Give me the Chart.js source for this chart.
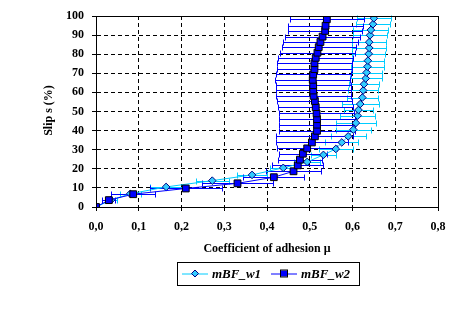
<!DOCTYPE html>
<html><head><meta charset="utf-8">
<script src="https://cdn.jsdelivr.net/npm/chart.js@4.4.0/dist/chart.umd.min.js"></script>
<style>html,body{margin:0;padding:0;background:#fff;}#wrap{width:456px;height:325px;}</style>
</head><body><div id="wrap"><canvas id="c" width="456" height="325"></canvas></div>
<script>
const seriesNames = ['mBF_w1', 'mBF_w2'];
const xTickValues = [0, 0.1, 0.2, 0.3, 0.4, 0.5, 0.6, 0.7, 0.8];
const yTickValues = [0, 10, 20, 30, 40, 50, 60, 70, 80, 90, 100];
const xTitle = 'Coefficient of adhesion \u03bc';
const yTitle = 'Slip s (%)';

const w1Slip = [0, 3.6, 6.9, 10.5, 13.8, 16.8, 20.5, 23.6, 27.3, 30.4, 33.8, 37.0, 40.5, 44.0, 47.8, 50.8, 53.9, 57.3, 61.0, 64.3, 67.3, 70.4, 73.5, 76.6, 80.2, 83.3, 86.3, 89.9, 92.7, 95.7, 98.8];
const w1Mu   = [0, 0.035, 0.080, 0.164, 0.272, 0.365, 0.438, 0.494, 0.532, 0.561, 0.575, 0.590, 0.602, 0.608, 0.612, 0.614, 0.618, 0.623, 0.625, 0.627, 0.631, 0.633, 0.635, 0.636, 0.638, 0.639, 0.639, 0.641, 0.643, 0.648, 0.650];
const w1Err  = [0, 0.015, 0.025, 0.037, 0.039, 0.035, 0.030, 0.031, 0.030, 0.039, 0.039, 0.041, 0.041, 0.046, 0.041, 0.035, 0.043, 0.036, 0.035, 0.036, 0.037, 0.037, 0.038, 0.038, 0.039, 0.039, 0.040, 0.040, 0.041, 0.040, 0.040];

const w2Slip = [0, 3.6, 6.7, 9.7, 12.4, 15.6, 18.7, 21.8, 24.8, 27.9, 30.7, 33.8, 37.0, 39.9, 43.1, 46.0, 49.0, 52.3, 55.5, 58.2, 61.0, 63.8, 66.6, 69.4, 72.2, 75.3, 78.1, 80.8, 83.7, 86.4, 89.2, 92.2, 94.9, 98.3];
const w2Mu   = [0, 0.030, 0.087, 0.210, 0.331, 0.416, 0.462, 0.472, 0.477, 0.484, 0.494, 0.505, 0.512, 0.517, 0.517, 0.517, 0.516, 0.514, 0.512, 0.509, 0.508, 0.508, 0.507, 0.508, 0.511, 0.511, 0.514, 0.518, 0.521, 0.525, 0.530, 0.536, 0.537, 0.540];
const w2Err  = [0, 0.015, 0.052, 0.084, 0.083, 0.071, 0.065, 0.060, 0.052, 0.056, 0.070, 0.085, 0.090, 0.090, 0.089, 0.089, 0.088, 0.088, 0.088, 0.088, 0.088, 0.088, 0.088, 0.088, 0.088, 0.088, 0.088, 0.088, 0.087, 0.087, 0.087, 0.087, 0.087, 0.087];

const COL1_LINE = '#00CCFF', COL1_FILL = '#33CCFF', COL1_EDGE = '#000080';
const COL2_LINE = '#0000FF', COL2_FILL = '#0000FF', COL2_EDGE = '#000000';
const FONT = '"Liberation Serif", "Times New Roman", serif';

function pts(xs, ys) { return xs.map((v, i) => ({ x: v, y: ys[i] })); }

const errBars = [
  { mu: w1Mu, slip: w1Slip, err: w1Err, color: COL1_LINE },
  { mu: w2Mu, slip: w2Slip, err: w2Err, color: COL2_LINE }
];

const errorBarPlugin = {
  id: 'errorBars',
  beforeDatasetsDraw(chart) {
    const ctx = chart.ctx, xs = chart.scales.x, ys = chart.scales.y;
    ctx.save();
    ctx.lineWidth = 1;
    errBars.forEach(s => {
      ctx.strokeStyle = s.color;
      ctx.beginPath();
      s.mu.forEach((m, i) => {
        const e = s.err[i];
        if (!e) return;
        const y = Math.round(ys.getPixelForValue(s.slip[i])) + 0.5;
        const x1 = Math.round(xs.getPixelForValue(m - e)) + 0.5;
        const x2 = Math.round(xs.getPixelForValue(m + e)) + 0.5;
        ctx.moveTo(x1, y); ctx.lineTo(x2, y);
        ctx.moveTo(x1, y - 3); ctx.lineTo(x1, y + 3);
        ctx.moveTo(x2, y - 3); ctx.lineTo(x2, y + 3);
      });
      ctx.stroke();
    });
    ctx.restore();
  }
};

const framePlugin = {
  id: 'frameAndText',
  afterDraw(chart) {
    const ctx = chart.ctx, a = chart.chartArea;
    ctx.save();
    ctx.strokeStyle = '#000'; ctx.lineWidth = 1;
    ctx.strokeRect(Math.round(a.left) + 0.5, Math.round(a.top) + 0.5, Math.round(a.right - a.left), Math.round(a.bottom - a.top));
    // axis titles
    ctx.fillStyle = '#000';
    ctx.font = 'bold 12px ' + FONT;
    ctx.textAlign = 'center'; ctx.textBaseline = 'middle';
    ctx.fillText(xTitle, (a.left + a.right) / 2, 249);
    ctx.save();
    ctx.translate(49, (a.top + a.bottom) / 2 - 1);
    ctx.rotate(-Math.PI / 2);
    ctx.fillText(yTitle, 0, 0);
    ctx.restore();
    // legend
    const lx = 177, ly = 262, lw = 182, lh = 23, cy = ly + lh / 2;
    ctx.strokeRect(lx + 0.5, ly + 0.5, lw, lh);
    ctx.font = 'italic bold 13px ' + FONT;
    ctx.textAlign = 'left';
    // entry 1
    ctx.strokeStyle = COL1_LINE;
    ctx.beginPath(); ctx.moveTo(182, cy + 0.5); ctx.lineTo(208, cy + 0.5); ctx.stroke();
    ctx.beginPath(); ctx.moveTo(195, cy - 3.5); ctx.lineTo(198.5, cy); ctx.lineTo(195, cy + 3.5); ctx.lineTo(191.5, cy); ctx.closePath();
    ctx.fillStyle = COL1_FILL; ctx.fill(); ctx.strokeStyle = COL1_EDGE; ctx.stroke();
    ctx.fillStyle = '#000';
    ctx.fillText(seriesNames[0], 212, cy + 1);
    // entry 2
    ctx.strokeStyle = COL2_LINE;
    ctx.beginPath(); ctx.moveTo(271, cy + 0.5); ctx.lineTo(297, cy + 0.5); ctx.stroke();
    ctx.fillStyle = COL2_FILL; ctx.fillRect(281, cy - 3, 6, 6);
    ctx.strokeStyle = COL2_EDGE; ctx.strokeRect(280.5, cy - 3.5, 7, 7);
    ctx.fillStyle = '#000';
    ctx.fillText(seriesNames[1], 301, cy + 1);
    ctx.restore();
  }
};

const tickFont = { family: FONT, size: 12, weight: 'bold' };

new Chart(document.getElementById('c'), {
  type: 'line',
  data: {
    datasets: [
      {
        label: seriesNames[0], data: pts(w1Mu, w1Slip), order: 1,
        borderColor: COL1_LINE, borderWidth: 1, tension: 0,
        pointStyle: 'rectRot', pointRadius: 3.8, pointBackgroundColor: COL1_FILL,
        pointBorderColor: COL1_EDGE, pointBorderWidth: 1
      },
      {
        label: seriesNames[1], data: pts(w2Mu, w2Slip), order: 0,
        borderColor: COL2_LINE, borderWidth: 1, tension: 0,
        pointStyle: 'rect', pointRadius: 4.8, pointBackgroundColor: COL2_FILL,
        pointBorderColor: COL2_EDGE, pointBorderWidth: 1
      }
    ]
  },
  options: {
    responsive: false, animation: false, devicePixelRatio: 1,
    layout: { padding: { top: 16, right: 18, left: 0, bottom: 0 } },
    plugins: { legend: { display: false }, tooltip: { enabled: false } },
    scales: {
      x: {
        type: 'linear', min: 0, max: 0.8,
        afterFit(s) { s.height = 118; },
        afterBuildTicks(s) { s.ticks = xTickValues.map(v => ({ value: v })); },
        ticks: { font: tickFont, color: '#000', padding: 9, maxRotation: 0,
          callback: v => v.toFixed(1).replace('.', ',') },
        grid: { color: '#000', lineWidth: 1, tickLength: 4, tickColor: '#000' },
        border: { display: true, color: '#000', width: 1, dash: [4, 3] }
      },
      y: {
        type: 'linear', min: 0, max: 100,
        afterFit(s) { s.width = 96; },
        afterBuildTicks(s) { s.ticks = yTickValues.map(v => ({ value: v })); },
        ticks: { font: tickFont, color: '#000', padding: 8, callback: v => String(v) },
        grid: { color: '#000', lineWidth: 1, tickLength: 4, tickColor: '#000' },
        border: { display: true, color: '#000', width: 1, dash: [4, 3] }
      }
    }
  },
  plugins: [errorBarPlugin, framePlugin]
});
</script></body></html>
